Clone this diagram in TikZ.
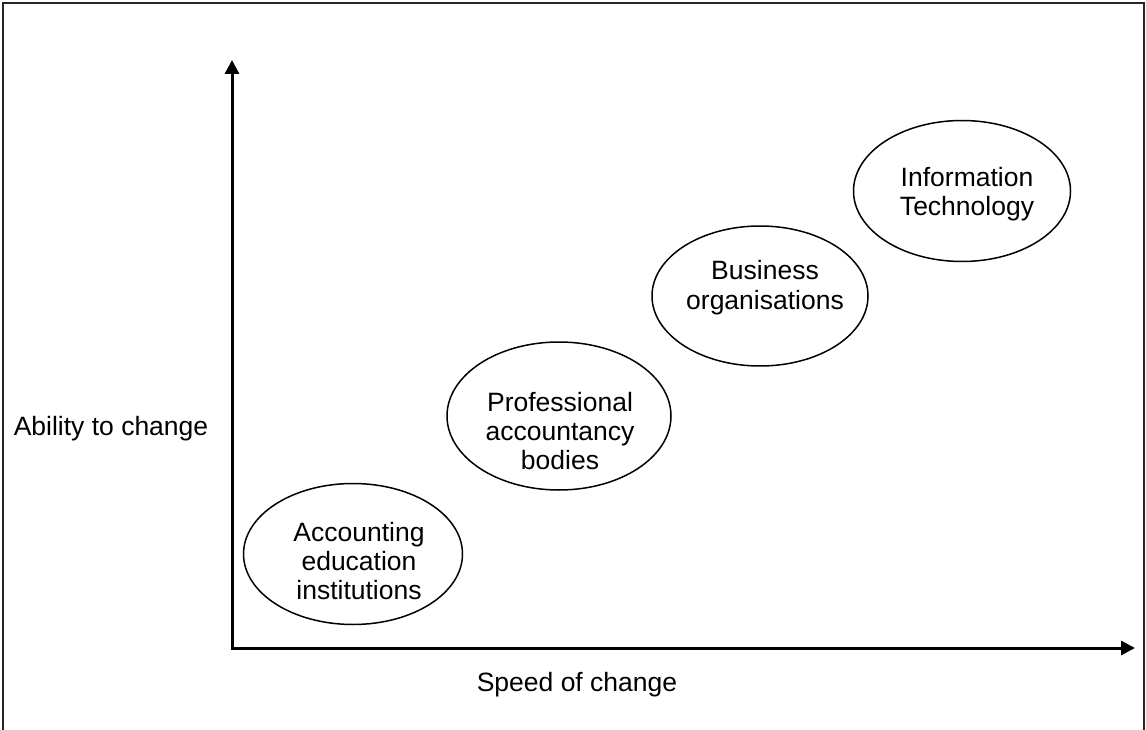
\documentclass[tikz,border=0pt]{standalone}
\usepackage{fontspec}
\setmainfont{Liberation Sans}
\usetikzlibrary{shapes.geometric,arrows.meta}
\tikzset{
  bubble/.style={draw=black, line width=1.5pt, ellipse, inner sep=0pt},
  lbl/.style={align=center, inner sep=0pt, font=\fontsize{26.5}{29}\selectfont},
  axis/.style={line width=3pt, {Triangle[length=14pt,width=14pt]}-{Triangle[length=14pt,width=14pt]}},
  frame/.style={line width=2pt, draw=black!85}
}
\begin{document}
\begin{tikzpicture}[x=1pt,y=-1pt]
\useasboundingbox (0,0) rectangle (1146,730);
\fill[white] (0,0) rectangle (1146,730);
\draw[frame] (3,740) -- (3,3) -- (1144,3) -- (1144,740);
% axes
\coordinate (O) at (232,648);
\coordinate (Ytip) at (232,60);
\coordinate (Xtip) at (1135,648);
\draw[axis] (Ytip) -- (O) -- (Xtip);
% ellipses
\node[bubble, minimum width=219pt, minimum height=141pt] (e1) at (353,554) {};
\node[bubble, minimum width=224pt, minimum height=148pt] (e2) at (559,416) {};
\node[bubble, minimum width=216pt, minimum height=140pt] (e3) at (760,296) {};
\node[bubble, minimum width=217pt, minimum height=141pt] (e4) at (962,191) {};
% labels
\node[lbl] (t1) at (359,565) {\strut Accounting\\\strut education\\\strut institutions};
\node[lbl] (t2) at (560,435) {\strut Professional\\\strut accountancy\\\strut bodies};
\node[lbl] (t3) at (765,288.7) {\strut Business\\\strut organisations};
\node[lbl] (t4) at (967,195.7) {\strut Information\\\strut Technology};
\node[lbl] (ylab) at (111,429.2) {\strut Ability to change};
\node[lbl] (xlab) at (577,686) {\strut Speed of change};
\end{tikzpicture}
\end{document}
